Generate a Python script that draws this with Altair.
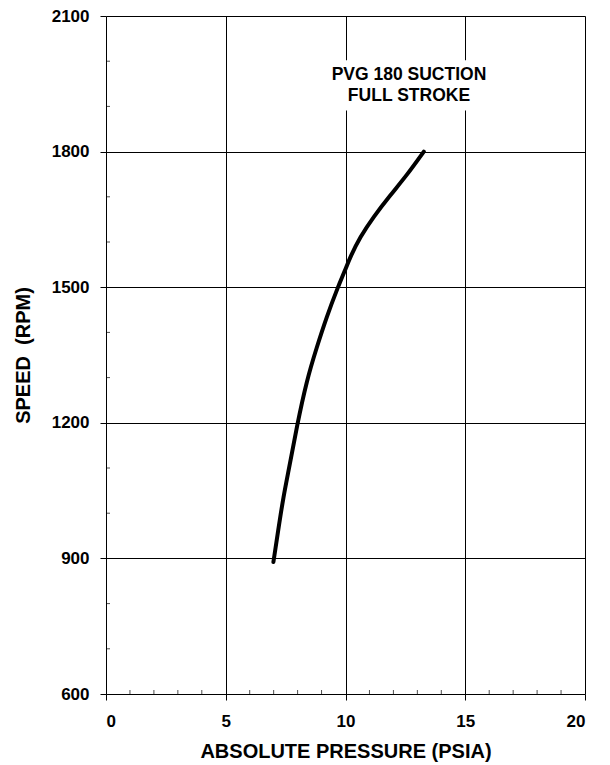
import altair as alt
import pandas as pd

# Curve
pressure = [6.99, 7.19, 7.40, 7.68, 7.96, 8.38, 8.80, 9.21, 9.68, 9.98, 10.19, 10.61, 11.16, 11.86, 12.55, 13.27]
speed = [892, 962, 1035, 1109, 1190, 1294, 1367, 1434, 1500, 1537, 1566, 1611, 1655, 1703, 1747, 1800]

x_major = [0, 5, 10, 15, 20]
x_minor = [1, 2, 3, 4, 6, 7, 8, 9, 11, 12, 13, 14, 16, 17, 18, 19]
y_major = [600, 900, 1200, 1500, 1800, 2100]
y_minor = [700, 800, 1000, 1100, 1300, 1400, 1600, 1700, 1900, 2000]

label_lines = ["PVG 180 SUCTION", "FULL STROKE"]

FONT = "Liberation Sans"
W, H = 479, 678

xs = alt.Scale(domain=[0, 20], nice=False, zero=False)
ys = alt.Scale(domain=[600, 2100], nice=False, zero=False)

line_df = pd.DataFrame({"p": pressure, "s": speed})

x_axis = alt.Axis(values=x_major, grid=True, gridColor="black", gridWidth=1, gridOpacity=1,
                  domain=False, tickSize=6, tickColor="black", tickWidth=1, format="d",
                  labelFont=FONT, labelFontSize=17, labelFontWeight="bold", labelColor="black",
                  labelPadding=13, title="ABSOLUTE PRESSURE (PSIA)", titleFont=FONT,
                  titleFontSize=20, titleFontWeight="bold", titleColor="black",
                  titleX=W / 2, titleY=57, titleBaseline="middle")
y_axis = alt.Axis(values=y_major, grid=True, gridColor="black", gridWidth=1, gridOpacity=1,
                  domain=False, tickSize=6, tickColor="black", tickWidth=1, format="d",
                  labelFont=FONT, labelFontSize=17, labelFontWeight="bold", labelColor="black",
                  labelPadding=11, title="SPEED\u00a0\u00a0(RPM)", titleFont=FONT,
                  titleFontSize=20, titleFontWeight="bold", titleColor="black",
                  titleX=-83, titleY=H / 2, titleBaseline="middle", titleAngle=270)

curve = alt.Chart(line_df).mark_line(color="black", strokeWidth=4, interpolate="basis",
                                     strokeCap="round").encode(
    x=alt.X("p:Q", scale=xs, axis=x_axis),
    y=alt.Y("s:Q", scale=ys, axis=y_axis),
)

minor_x = alt.Chart(pd.DataFrame({"p": x_minor})).mark_tick(
    orient="vertical", size=4, thickness=1, color="black", yOffset=-2
).encode(x=alt.X("p:Q", scale=xs), y=alt.datum(600, scale=ys))

minor_y = alt.Chart(pd.DataFrame({"s": y_minor})).mark_tick(
    orient="horizontal", size=4, thickness=1, color="black", xOffset=2
).encode(y=alt.Y("s:Q", scale=ys), x=alt.datum(0, scale=xs))

box = alt.Chart(pd.DataFrame({"x1": [9.3], "x2": [16.2], "y1": [1891], "y2": [2002]})).mark_rect(
    color="white"
).encode(x=alt.X("x1:Q", scale=xs), x2="x2", y=alt.Y("y1:Q", scale=ys), y2="y2")

label = alt.Chart(pd.DataFrame({"x": [12.65], "y": [1970], "t": [label_lines]})).mark_text(
    font=FONT, fontSize=17.5, fontWeight="bold", color="black", align="center",
    baseline="middle", lineHeight=21
).encode(x=alt.X("x:Q", scale=xs), y=alt.Y("y:Q", scale=ys), text="t")

chart = alt.layer(curve, minor_x, minor_y, box, label).properties(
    width=W, height=H,
    autosize=alt.AutoSizeParams(type="none"),
    padding={"left": 98, "top": 8, "right": 10, "bottom": 70},
).configure_view(stroke="black", strokeWidth=2).configure(background="white")

chart.save("out.html", embed_options={"renderer": "svg", "actions": False})
